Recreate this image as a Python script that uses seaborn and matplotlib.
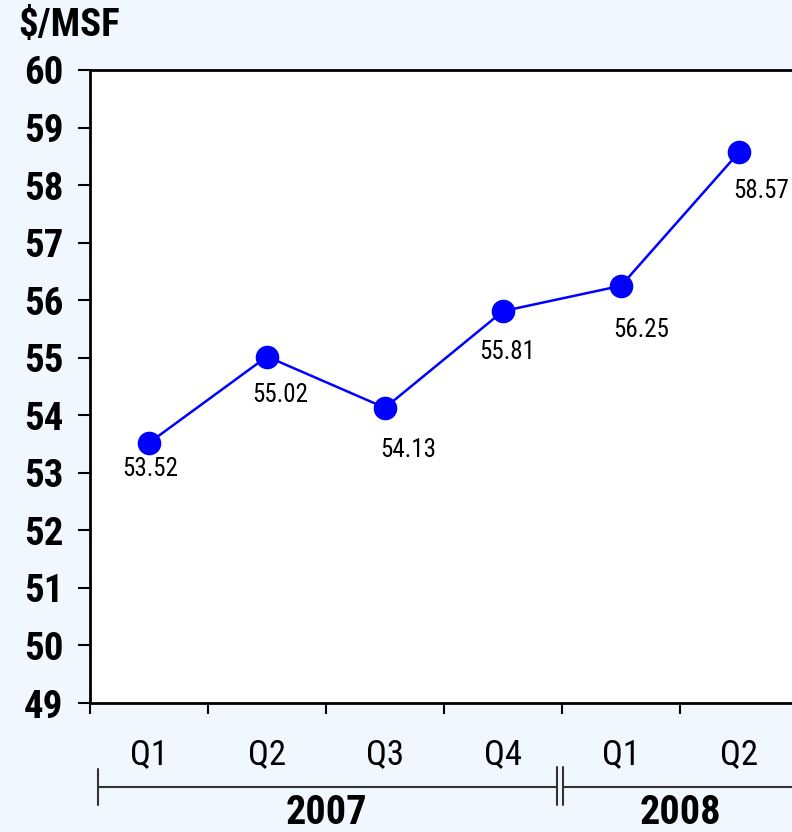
import seaborn as sns
import pandas as pd
import matplotlib.pyplot as plt
from matplotlib import font_manager as fm
from matplotlib.transforms import blended_transform_factory

# Data
quarters = ['Q1', 'Q2', 'Q3', 'Q4', 'Q1', 'Q2']
years = ['2007', '2007', '2007', '2007', '2008', '2008']
price = [53.52, 55.02, 54.13, 55.81, 56.25, 58.57]

# label offsets (pixels) from each point
label_offsets = [(1, -26), (13, -38), (23, -42), (4, -41), (20, -44), (22, -39)]

df = pd.DataFrame({'pos': range(len(price)), 'quarter': quarters,
                   'year': years, 'price': price})

sns.set_style('ticks')

# look for a condensed face, the reference uses a narrow font
family, stretch = 'DejaVu Sans', 'normal'
fonts = fm.fontManager.ttflist
for cand in ['Liberation Sans Narrow', 'Roboto Condensed', 'Open Sans Condensed']:
    if any(f.name == cand for f in fonts):
        family = cand
        break
else:
    for f in fonts:
        if f.stretch in ('condensed', 'semi-condensed') and f.name in ('Noto Sans', 'Open Sans', 'Roboto', 'Inter'):
            family, stretch = f.name, 'condensed'
            break
    else:
        family = 'Roboto'

plt.rcParams['font.family'] = [family, 'DejaVu Sans']
plt.rcParams['font.stretch'] = stretch
plt.rcParams['text.color'] = 'black'
plt.rcParams['xtick.color'] = 'black'
plt.rcParams['ytick.color'] = 'black'
bg = '#F0F7FE'

fig = plt.figure(figsize=(7.92, 8.32), dpi=100, facecolor=bg)
ax = fig.add_axes([90 / 792, 129 / 832, 708 / 792, 633 / 832])
ax.set_facecolor('white')

sns.lineplot(data=df, x='pos', y='price', ax=ax, color='#0000FF', lw=1.8,
             marker='o', markersize=17, markeredgewidth=0, markerfacecolor='#0000FF')

for i, v in enumerate(price):
    dx, dy = label_offsets[i]
    ax.annotate(f'{v:.2f}', (i, v), xytext=(dx, dy), textcoords='offset pixels',
                ha='center', va='center', fontsize=18, color='black')

ax.set_ylim(49, 60)
ax.set_yticks(range(49, 61))
ax.set_xlim(-0.5, len(price) - 0.5)
ax.set_xticks([i - 0.5 for i in range(len(price) + 1)])
ax.set_xticklabels([])
ax.set_xlabel('')
ax.set_ylabel('')

for lab in ax.get_yticklabels():
    lab.set_fontweight('bold')
ax.tick_params(axis='y', labelsize=28, length=9, width=1.5, pad=10, direction='out')
ax.tick_params(axis='x', length=8, width=1.5, direction='out')
for s in ax.spines.values():
    s.set_linewidth(2)
    s.set_color('black')

# quarter labels and year brackets under the axis
trans = blended_transform_factory(ax.transData, ax.transAxes)
for i, q in enumerate(quarters):
    ax.text(i, -0.082, q, transform=trans, ha='center', va='center', fontsize=25)

ybr = -0.1327
lc = '#333333'
ax.plot([-0.432, 3.458], [ybr, ybr], transform=trans, color=lc, lw=1.5, clip_on=False)
ax.plot([3.508, 5.6], [ybr, ybr], transform=trans, color=lc, lw=1.5, clip_on=False)
ax.plot([-0.432, -0.432], [ybr + 0.028, ybr - 0.028], transform=trans, color=lc, lw=1.5, clip_on=False)
for xb in (3.458, 3.508):
    ax.plot([xb, xb], [ybr + 0.031, ybr - 0.028], transform=trans, color=lc, lw=1.5, clip_on=False)

for yr in sorted(set(years)):
    idx = [i for i, y in enumerate(years) if y == yr]
    ax.text(sum(idx) / len(idx), -0.174, yr, transform=trans, ha='center', va='center',
            fontsize=29, fontweight='bold')

fig.text(18 / 792, 1 - 26 / 832, '$/MSF', ha='left', va='center', fontsize=28, fontweight='bold')

fig.savefig('out.png', dpi=100, facecolor=bg)
